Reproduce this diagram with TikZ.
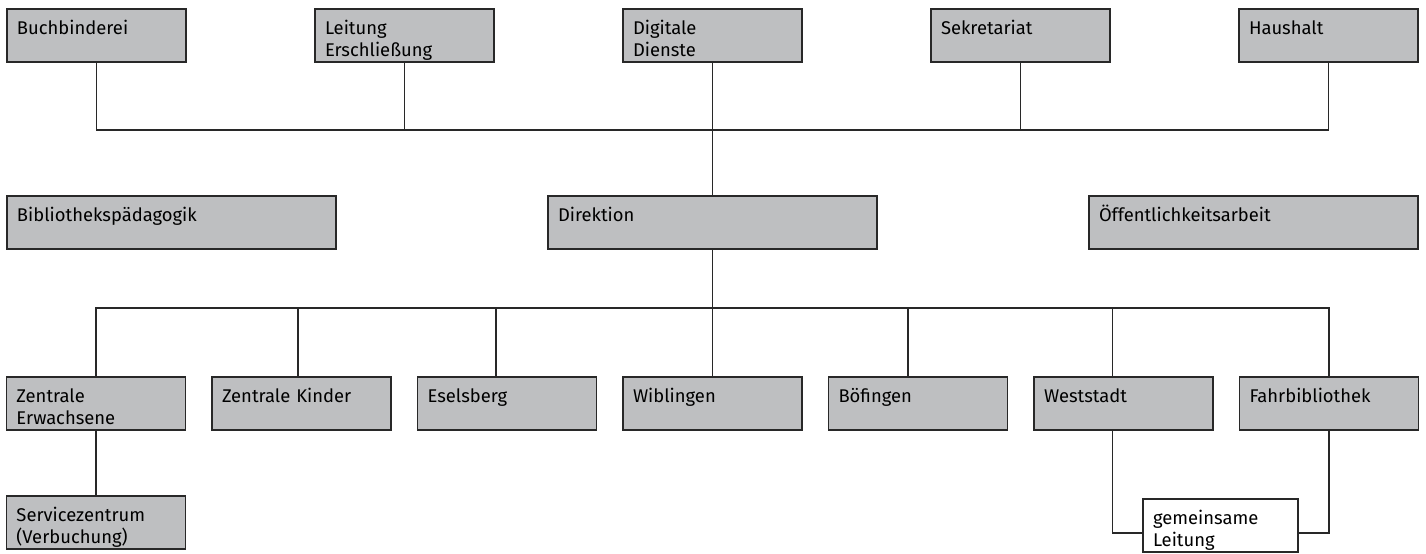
\documentclass[tikz,border=0pt]{standalone}
\usepackage{fontspec}
\setmainfont{Fira Sans}
\usetikzlibrary{positioning}
\definecolor{boxgray}{RGB}{190,191,193}
\definecolor{linegray}{RGB}{40,40,40}

\begin{document}
\begin{tikzpicture}[
        x=0.5pt, y=-0.5pt,
        node distance=64.5pt,
        unit/.style={rectangle, draw=linegray, line width=0.9pt, fill=boxgray, anchor=north west, outer sep=0pt, text width=79.5pt, inner xsep=5pt, inner ysep=3pt, text height=9.5pt, text depth=11pt, align=left, font=\fontsize{9.2}{11.4}\selectfont},
        wideunit/.style={unit, text width=154.5pt},
        jointunit/.style={unit, fill=white, text width=67.5pt},
        link/.style={draw=linegray, line width=0.75pt}
    ]
\useasboundingbox (0,0) rectangle (1426,553);

% Row 1
        \node[unit] (buch) at (7,9) {Buchbinderei};
        \node[unit, right=of buch] (erschl) {Leitung\\Erschließung};
        \node[unit, right=of erschl] (digi) {Digitale\\Dienste};
        \node[unit, right=of digi] (sekr) {Sekretariat};
        \node[unit, right=of sekr] (haus) {Haushalt};

% Row 2
        \node[wideunit, below=67pt of digi] (dir) {Direktion};
        \node[wideunit, left=106pt of dir] (paed) {Bibliothekspädagogik};
        \node[wideunit, right=106pt of dir] (oeff) {Öffentlichkeitsarbeit};

% Row 3
        \node[unit, below=64pt of dir] (wibl) {Wiblingen};
        \node[unit, left=13.25pt of wibl] (esel) {Eselsberg};
        \node[unit, left=13.25pt of esel] (kind) {Zentrale Kinder};
        \node[unit, left=13.25pt of kind] (erw) {Zentrale\\Erwachsene};
        \node[unit, right=13.25pt of wibl] (boef) {Böfingen};
        \node[unit, right=13.25pt of boef] (west) {Weststadt};
        \node[unit, right=13.25pt of west] (fahr) {Fahrbibliothek};

% Row 4
        \node[unit, below=33pt of erw] (serv) {Servicezentrum\\(Verbuchung)};
        \node[jointunit] (gem) at (1143,499) {gemeinsame\\Leitung};

% Lines
        \coordinate (topbar) at (712.5,130);
        \coordinate (lowbar) at (712.5,308);
        \draw[link] (digi) -- (dir);
        \draw[link] (buch) |- (topbar);
        \draw[link] (erschl) |- (topbar);
        \draw[link] (sekr) |- (topbar);
        \draw[link] (haus) |- (topbar);
        \draw[link] (dir) -- (wibl);
        \draw[link] (erw) |- (lowbar);
        \draw[link] ([xshift=-1.75pt]kind.north) |- (lowbar);
        \draw[link] ([xshift=-5.5pt]esel.north) |- (lowbar);
        \draw[link] ([xshift=-5pt]boef.north) |- (lowbar);
        \draw[link] ([xshift=-5.5pt]west.north) |- (lowbar);
        \draw[link] (fahr) |- (lowbar);
        \draw[link] (erw) -- (serv);
        \draw[link] ([xshift=-5.5pt]west.south) |- ([yshift=-3.75pt]gem.west);
        \draw[link] (fahr) |- ([yshift=-3.75pt]gem.east);
    \end{tikzpicture}
\end{document}
